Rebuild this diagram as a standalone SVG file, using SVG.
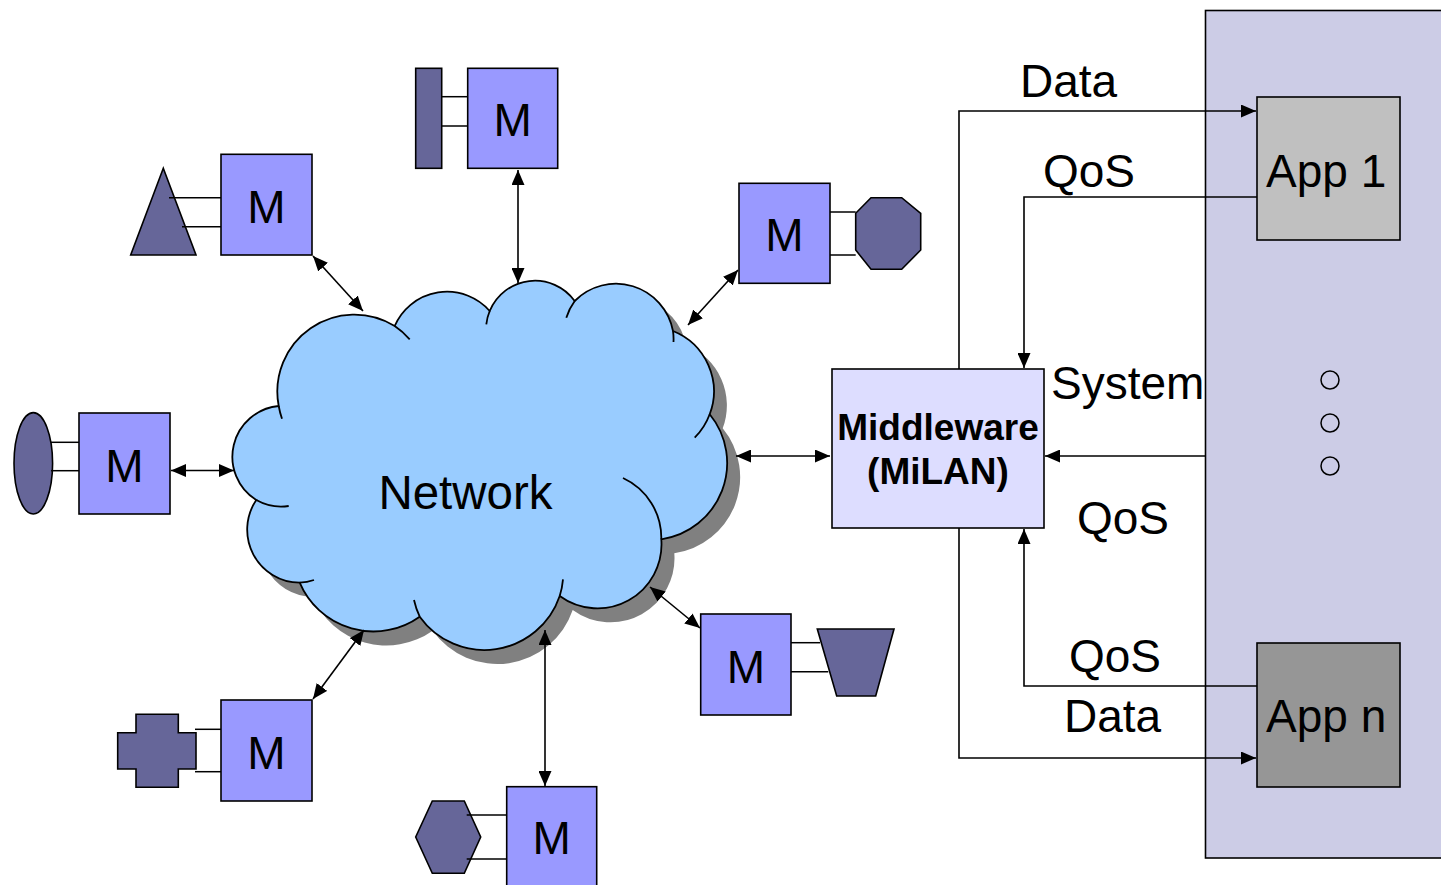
<svg xmlns="http://www.w3.org/2000/svg" width="1441" height="885" viewBox="0 0 1441 885">
  <style>
    .lbl { font-family: "Liberation Sans", Arial, sans-serif; font-size: 46px; fill: #000; }
    .mid { text-anchor: middle; }
    .big { font-size: 47.5px; }
    .bold { font-weight: bold; font-size: 37px; }
    .mbox { fill: #9999FF; stroke: #000; stroke-width: 1.6; }
    .dev { fill: #666699; stroke: #000; stroke-width: 1.6; }
    .tie { stroke: #000; stroke-width: 1.5; fill: none; }
    .wire { stroke: #000; stroke-width: 1.6; fill: none; }
    .dbl { marker-start: url(#ah); marker-end: url(#ah); }
    .one { marker-end: url(#ah); }
  </style>
  <defs>
    <marker id="ah" viewBox="0 0 15 13" refX="15" refY="6.5" markerWidth="15" markerHeight="13" markerUnits="userSpaceOnUse" orient="auto-start-reverse">
      <path d="M0,0 L15,6.5 L0,13 Z" fill="#000"/>
    </marker>
    <path id="cloudShape" d="M 278.7 406 A 77 77 0 0 1 394.7 326 A 57 57 0 0 1 489.7 311 A 49 49 0 0 1 574.7 301 A 58 58 0 0 1 673 331 A 65 65 0 0 1 709.7 414.3 A 77 77 0 0 1 661.3 539.3 A 64 64 0 0 1 559.7 596 A 79.5 79.5 0 0 1 419.7 616.7 A 80 80 0 0 1 299.7 582.7 A 53 53 0 0 1 256.3 500 A 51 51 0 0 1 278.7 406 Z"/>
  </defs>

  <rect width="1441" height="885" fill="#fff"/>

  <!-- application panel -->
  <g id="apps">
    <rect x="1205.5" y="10.5" width="260" height="847.5" fill="#CCCCE6" stroke="#000" stroke-width="1.6"/>
    <g id="app1">
      <rect x="1257" y="97" width="143" height="143" fill="#C0C0C0" stroke="#000" stroke-width="1.6"/>
      <text class="lbl" x="1266" y="187">App 1</text>
    </g>
    <g id="appn">
      <rect x="1257" y="643" width="143" height="144" fill="#969696" stroke="#000" stroke-width="1.6"/>
      <text class="lbl" x="1266" y="732">App n</text>
    </g>
    <g id="dots" fill="none" stroke="#000" stroke-width="1.5">
      <circle cx="1330" cy="380" r="9"/>
      <circle cx="1330" cy="423" r="9"/>
      <circle cx="1330" cy="466" r="9"/>
    </g>
  </g>

  <!-- network cloud -->
  <g id="network">
    <use href="#cloudShape" transform="translate(13,14)" fill="#808080"/>
    <use href="#cloudShape" fill="#99CCFF" stroke="#000" stroke-width="1.8"/>
    <path fill="none" stroke="#000" stroke-width="1.8" d="M 282 418.7 A 77 77 0 0 1 278.7 406 M 288.7 506 A 51 51 0 0 1 256.3 500 M 314 580 A 53 53 0 0 1 299.7 582.7 M 419.7 616.7 A 79.5 79.5 0 0 1 414 600 M 563 579.3 A 79.5 79.5 0 0 1 559.7 596 M 623 478 A 66 66 0 0 1 661.3 539.3 M 709.7 414.3 A 65 65 0 0 1 694.7 437.7 M 673 331 A 58 58 0 0 1 673.5 342 M 566.3 317.7 A 58 58 0 0 1 574.7 301 M 486.3 324.3 A 49 49 0 0 1 489.7 311 M 394.7 326 A 77 77 0 0 1 409.7 339.3"/>
    <text class="lbl mid big" x="465.5" y="508.5">Network</text>
  </g>

  <!-- middleware -->
  <g id="middleware">
    <rect x="832" y="369" width="212" height="159" fill="#DDDDFF" stroke="#000" stroke-width="1.6"/>
    <text class="lbl bold mid" x="938" y="440">Middleware</text>
    <text class="lbl bold mid" x="938" y="484">(MiLAN)</text>
  </g>

  <!-- sensor nodes -->
  <g id="node-triangle">
    <polygon class="dev" points="163.3,168.3 196,255 130.7,255"/>
    <line class="tie" x1="169" y1="197.7" x2="221" y2="197.7"/>
    <line class="tie" x1="182" y1="226.7" x2="221" y2="226.7"/>
    <rect class="mbox" x="221" y="154.3" width="91" height="100.7"/>
    <text class="lbl mid" x="266.5" y="222.5">M</text>
  </g>

  <g id="node-bar">
    <rect class="dev" x="415.7" y="68.3" width="26" height="100"/>
    <line class="tie" x1="441.7" y1="96.7" x2="467.7" y2="96.7"/>
    <line class="tie" x1="441.7" y1="126" x2="467.7" y2="126"/>
    <rect class="mbox" x="467.7" y="68.3" width="90" height="100"/>
    <text class="lbl mid" x="512.7" y="136">M</text>
  </g>

  <g id="node-octagon">
    <polygon class="dev" points="871,197.7 901.7,197.7 920.7,213.3 920.7,250 901.7,269.3 871,269.3 855.7,250 855.7,213.3"/>
    <line class="tie" x1="830" y1="212" x2="855.7" y2="212"/>
    <line class="tie" x1="830" y1="255" x2="855.7" y2="255"/>
    <rect class="mbox" x="739" y="183.3" width="91" height="100"/>
    <text class="lbl mid" x="784.5" y="251">M</text>
  </g>

  <g id="node-ellipse">
    <ellipse class="dev" cx="33.3" cy="463.3" rx="19.3" ry="50.7"/>
    <line class="tie" x1="51" y1="442.3" x2="79" y2="442.3"/>
    <line class="tie" x1="51" y1="470.7" x2="79" y2="470.7"/>
    <rect class="mbox" x="79" y="413" width="91" height="101"/>
    <text class="lbl mid" x="124.5" y="481.5">M</text>
  </g>

  <g id="node-cross">
    <polygon class="dev" points="136,714.3 178.3,714.3 178.3,732.7 196,732.7 196,769 178.3,769 178.3,787.3 136,787.3 136,769 117.7,769 117.7,732.7 136,732.7"/>
    <line class="tie" x1="195" y1="729.3" x2="221" y2="729.3"/>
    <line class="tie" x1="195" y1="771.7" x2="221" y2="771.7"/>
    <rect class="mbox" x="221" y="700" width="91" height="101"/>
    <text class="lbl mid" x="266.5" y="768.5">M</text>
  </g>

  <g id="node-hexagon">
    <polygon class="dev" points="432.3,801 464.3,801 480.7,837 464.3,873.3 432.3,873.3 415.7,837"/>
    <line class="tie" x1="466.7" y1="815" x2="506.7" y2="815"/>
    <line class="tie" x1="466.7" y1="859" x2="506.7" y2="859"/>
    <rect class="mbox" x="506.7" y="786.7" width="90" height="101"/>
    <text class="lbl mid" x="551.7" y="854">M</text>
  </g>

  <g id="node-trapezoid">
    <polygon class="dev" points="817.3,629 894,629 875.7,696 836.7,696"/>
    <line class="tie" x1="791" y1="642.7" x2="820" y2="642.7"/>
    <line class="tie" x1="791" y1="671.7" x2="828.3" y2="671.7"/>
    <rect class="mbox" x="700.7" y="614" width="90.3" height="101"/>
    <text class="lbl mid" x="745.8" y="682.5">M</text>
  </g>

  <!-- connectors -->
  <g id="connectors">
    <line class="wire dbl" x1="313" y1="256" x2="363" y2="311"/>
    <line class="wire dbl" x1="518" y1="170" x2="518" y2="283"/>
    <line class="wire dbl" x1="738" y1="270" x2="688" y2="325"/>
    <line class="wire dbl" x1="171" y1="470.5" x2="234" y2="470.5"/>
    <line class="wire dbl" x1="736" y1="456" x2="830" y2="456"/>
    <line class="wire dbl" x1="313" y1="699" x2="364" y2="630"/>
    <line class="wire dbl" x1="545" y1="786" x2="545" y2="630"/>
    <line class="wire dbl" x1="650" y1="587" x2="700" y2="628"/>

    <polyline class="wire one" points="959,369 959,111 1256,111"/>
    <polyline class="wire one" points="1257,197 1024,197 1024,368"/>
    <line class="wire one" x1="1205" y1="456" x2="1045" y2="456"/>
    <polyline class="wire one" points="1257,686 1024,686 1024,529"/>
    <polyline class="wire one" points="959,528 959,758 1256,758"/>
  </g>

  <!-- flow labels -->
  <g id="labels">
    <text class="lbl" x="1020" y="97">Data</text>
    <text class="lbl" x="1043" y="187">QoS</text>
    <text class="lbl" x="1051" y="399">System</text>
    <text class="lbl" x="1077" y="534">QoS</text>
    <text class="lbl" x="1069" y="672">QoS</text>
    <text class="lbl" x="1064" y="732">Data</text>
  </g>
</svg>
